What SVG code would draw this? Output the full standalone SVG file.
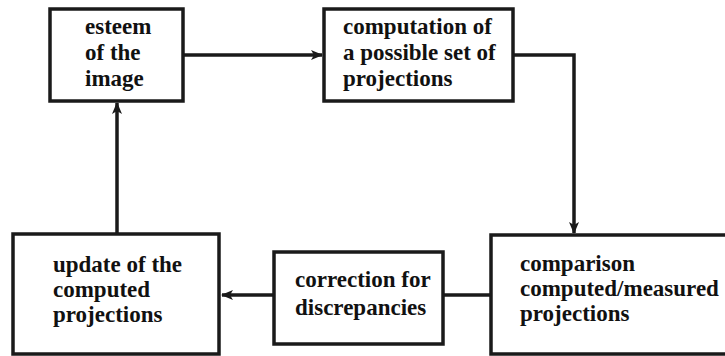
<svg xmlns="http://www.w3.org/2000/svg" width="725" height="356" viewBox="0 0 725 356">
<defs>
<style>
.box{fill:#fff;stroke:#1a1a1a;stroke-width:3.5}
.lbl{font-weight:bold;font-size:23px;fill:#111}
.con{fill:none;stroke:#1a1a1a;stroke-width:3.5}
</style>
<marker id="ah" viewBox="0 0 12 10" refX="11" refY="5" markerWidth="12" markerHeight="10" markerUnits="userSpaceOnUse" orient="auto">
<path d="M0,0 L12,5 L0,10 L3,5 Z" fill="#1a1a1a"/>
</marker>
</defs>
<rect width="725" height="356" fill="#fff"/>
<g id="connectors">
<line class="con" x1="184" y1="55" x2="322" y2="55" marker-end="url(#ah)"/>
<polyline class="con" points="513,55 574,55 574,233" marker-end="url(#ah)"/>
<line class="con" x1="491" y1="295" x2="443" y2="295"/>
<line class="con" x1="274" y1="295" x2="222" y2="295" marker-end="url(#ah)"/>
<line class="con" x1="117" y1="234" x2="117" y2="103" marker-end="url(#ah)"/>
</g>
<g font-family="Liberation Serif, serif">
<g id="esteem">
<rect class="box" x="50" y="9" width="133" height="92"/>
<text class="lbl" x="85" y="34">esteem</text>
<text class="lbl" x="85" y="60">of the</text>
<text class="lbl" x="85" y="86">image</text>
</g>
<g id="computation">
<rect class="box" x="324" y="9" width="189" height="92"/>
<text class="lbl" x="343" y="34">computation of</text>
<text class="lbl" x="343" y="60">a possible set of</text>
<text class="lbl" x="343" y="86">projections</text>
</g>
<g id="comparison">
<rect class="box" x="491" y="235" width="240" height="119"/>
<text class="lbl" x="520" y="271">comparison</text>
<text class="lbl" x="520" y="296">computed/measured</text>
<text class="lbl" x="520" y="321">projections</text>
</g>
<g id="correction">
<rect class="box" x="274" y="252" width="169" height="92"/>
<text class="lbl" x="295" y="287">correction for</text>
<text class="lbl" x="295" y="315">discrepancies</text>
</g>
<g id="update">
<rect class="box" x="13" y="234" width="206" height="120"/>
<text class="lbl" x="53" y="272">update of the</text>
<text class="lbl" x="53" y="297">computed</text>
<text class="lbl" x="53" y="322">projections</text>
</g>
</g>
</svg>
